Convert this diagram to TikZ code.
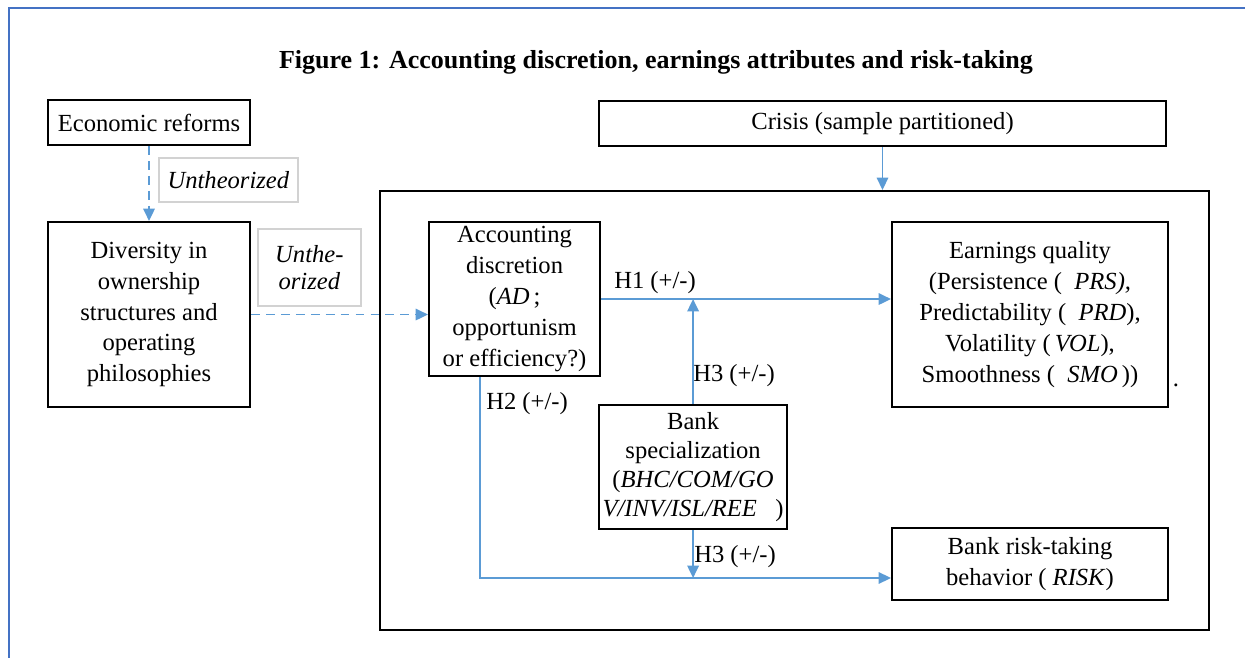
\documentclass[tikz,border=0pt]{standalone}
\usepackage{fontspec}
\setmainfont{Liberation Serif}
\usetikzlibrary{arrows.meta}
\definecolor{arrowblue}{RGB}{91,155,213}
\definecolor{frameblue}{RGB}{68,114,196}
\tikzset{
    box/.style={draw, line width=1.2pt, align=center, inner sep=2pt, anchor=north west},
    note/.style={draw=gray!35, line width=1pt, align=center, inner sep=2pt, anchor=north west, font=\fontsize{14}{15.5}\selectfont\itshape},
    arr/.style={draw=arrowblue, line width=1pt, -{Triangle[length=7pt,width=6.5pt]}},
    dasharr/.style={arr, dash pattern=on 5pt off 3.5pt},
    lbl/.style={inner sep=0pt},
}
\begin{document}
\begin{tikzpicture}[x=0.02cm, y=-0.02cm, font=\fontsize{14}{17.6}\selectfont]
    \useasboundingbox (0,0) rectangle (1245,658);

    % page frame
    \draw[frameblue, line width=1.5pt] (9,658) -- (9,8) -- (1245,8);

    \node[font=\fontsize{14.8}{17.6}\selectfont\bfseries] (title) at (656,62) {Figure 1: Accounting discretion, earnings attributes and risk-taking};

    % left column
    \node[box, minimum width=4.04cm, minimum height=0.9cm] (econ) at (47,99) {Economic reforms};
    \node[note, minimum width=2.78cm, minimum height=0.88cm] (note1) at (158,157) {Untheorized};
    \node[box, minimum width=4.04cm, minimum height=3.7cm] (div) at (47,221) {Diversity in\\ownership\\structures and\\operating\\philosophies};
    \node[note, minimum width=2.06cm, minimum height=1.54cm] (note2) at (257,228) {Unthe-\\orized};

    % crisis and model frame
    \node[box, minimum width=11.34cm, minimum height=0.9cm] (crisis) at (598,100) {Crisis (sample partitioned)};
    \node[box, minimum width=16.58cm, minimum height=8.78cm] (frame) at (379,190) {};

    \node[box, minimum width=3.42cm, minimum height=3.08cm] (acc) at (428,221) {Accounting\\discretion\\(\textit{AD}\,;\\opportunism\\or efficiency?)};
    \node[box, minimum width=5.52cm, minimum height=3.7cm] (eq) at (891,221) {Earnings quality\\(Persistence (\ \ \textit{PRS),}\\Predictability (\ \ \textit{PRD}),\\Volatility (\,\textit{VOL}),\\Smoothness (\ \ \textit{SMO}\,))};
    \node[box, minimum width=3.66cm, minimum height=2.48cm, font=\fontsize{14}{16.5}\selectfont] (spec) at (598,404) {Bank\\specialization\\(\textit{BHC/COM/GO}\\\textit{V/INV/ISL/REE}\ \ \ )};
    \node[box, minimum width=5.52cm, minimum height=1.44cm] (risk) at (891,527) {Bank risk-taking\\behavior (\ \textit{RISK})};
    \node[lbl] (dot) at (1176,385) {.};

    % connectors
    \coordinate (corner) at (480,578);
    \draw[dasharr] (econ.south) -- (div.north);
    \draw[dasharr] (div.east) -- (div.east -| acc.west);
    \draw[arr] (crisis.south) -- (crisis.south |- frame.north);
    \draw[arr] (acc.east) -- (acc.east -| eq.west);
    \draw[arr] (spec.north) -- (spec.north |- acc.east);
    \draw[arr] (acc.south -| corner) -- (corner) -- (corner -| risk.west);
    \draw[arr] (spec.south) -- (spec.south |- corner);

    % hypotheses
    \node[lbl] (h1) at (655,283) {H1 (+/-)};
    \node[lbl] (h2) at (527,404) {H2 (+/-)};
    \node[lbl] (h3a) at (734,376) {H3 (+/-)};
    \node[lbl] (h3b) at (735,557) {H3 (+/-)};
\end{tikzpicture}
\end{document}
